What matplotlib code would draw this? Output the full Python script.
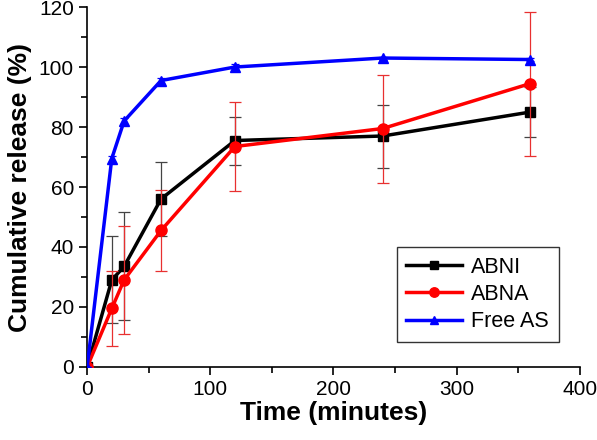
'''Cumulative release chart.'''
import matplotlib as mpl
mpl.use('Agg')
import matplotlib.pyplot as plt
from matplotlib.ticker import MultipleLocator

time = [0, 20, 30, 60, 120, 240, 360]

abni = [0, 29, 33.5, 56, 75.5, 77, 85]
abni_err = [0, 14.5, 18, 12.5, 8, 10.5, 8.3]

abna = [0, 19.5, 29, 45.5, 73.5, 79.5, 94.5]
abna_err = [0, 12.5, 18, 13.5, 15, 18, 24]

free_as = [0, 69.5, 82, 95.5, 100, 103, 102.5]
free_as_err = [0, 1, 1, 1, 1, 0.5, 0.5]

plt.rcParams['font.family'] = ['Liberation Sans', 'DejaVu Sans']

fig = plt.figure(figsize=(5.97, 4.4), dpi=100)
ax = fig.add_axes([0.146, 0.166, 0.825, 0.818])

h1 = ax.errorbar(time, abni, yerr=abni_err, color='black', marker='s', ms=7,
                 lw=2.5, ecolor='#444444', elinewidth=0.9, capsize=4,
                 capthick=0.9, label='ABNI', zorder=3)
h2 = ax.errorbar(time, abna, yerr=abna_err, color='#ff0000', marker='o',
                 ms=8, lw=2.5, ecolor='#e83030', elinewidth=0.9, capsize=4,
                 capthick=0.9, label='ABNA', zorder=4)
h3 = ax.errorbar(time, free_as, yerr=free_as_err, color='#0000ff',
                 marker='^', ms=7, lw=2.5, ecolor='#0000ff', elinewidth=0.9,
                 capsize=3, capthick=0.9, label='Free AS', zorder=5)

ax.set_xlim(0, 400)
ax.set_ylim(0, 120)
ax.xaxis.set_major_locator(MultipleLocator(100))
ax.xaxis.set_minor_locator(MultipleLocator(50))
ax.yaxis.set_major_locator(MultipleLocator(20))
ax.yaxis.set_minor_locator(MultipleLocator(10))
ax.spines['top'].set_visible(False)
ax.spines['right'].set_visible(False)
ax.spines['left'].set_linewidth(1.2)
ax.spines['bottom'].set_linewidth(1.2)
ax.tick_params(which='both', direction='out', width=1.2, labelsize=15)
ax.tick_params(which='major', length=6)
ax.tick_params(which='minor', length=4)

ax.set_xlabel('Time (minutes)', fontsize=19, fontweight='bold', labelpad=1)
ax.set_ylabel('Cumulative release (%)', fontsize=19, fontweight='bold',
              labelpad=5)

leg = ax.legend([h1[0], h2[0], h3[0]], ['ABNI', 'ABNA', 'Free AS'],
                loc='lower right', bbox_to_anchor=(0.957, 0.069),
                borderaxespad=0, fontsize=15.5, frameon=True,
                fancybox=False, handlelength=2.6, handletextpad=0.4,
                borderpad=0.45, labelspacing=0.3, markerscale=0.85)
leg.get_frame().set_edgecolor('black')
leg.get_frame().set_linewidth(1.0)

fig.savefig('out.png', dpi=100)
